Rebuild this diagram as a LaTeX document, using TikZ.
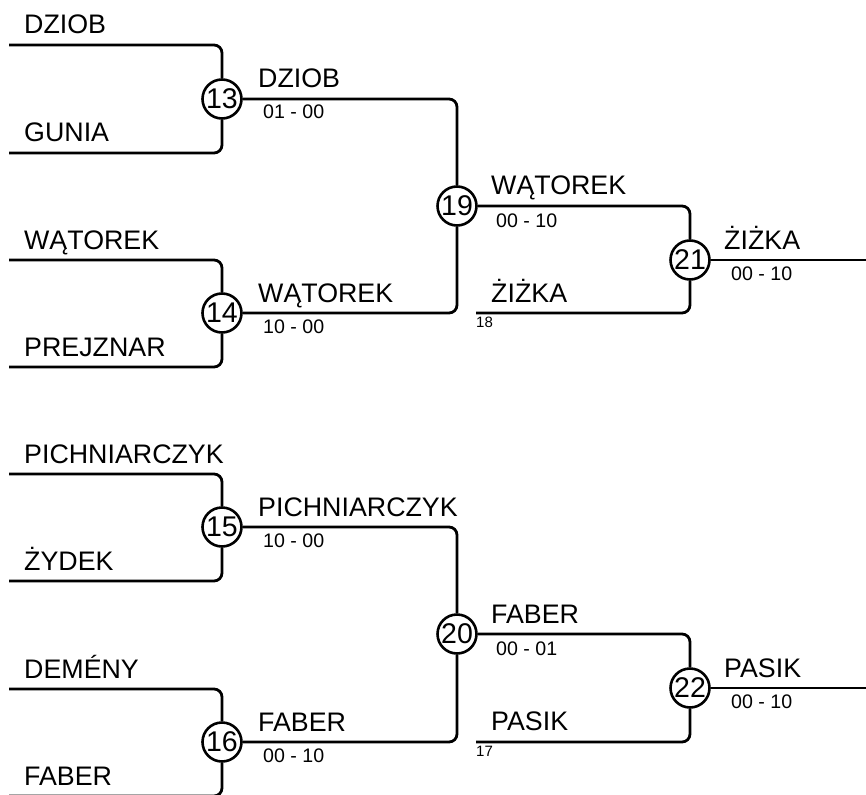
\documentclass[tikz,border=0pt]{standalone}
\usepackage{fontspec}
\setmainfont{Liberation Sans}
\begin{document}
\begin{tikzpicture}[x=1pt,y=-1pt,
  wire/.style={line width=2.8pt, rounded corners=8pt},
  mnode/.style={circle, draw, line width=2.6pt, minimum size=39pt, inner sep=0pt, fill=white, font=\fontsize{28.5}{30}\selectfont},
  pname/.style={anchor=base west, inner sep=0pt, font=\fontsize{26.8}{30}\selectfont},
  pscore/.style={anchor=base west, inner sep=0pt, font=\fontsize{19.6}{22}\selectfont},
  pseed/.style={anchor=base west, inner sep=0pt, font=\fontsize{15}{16}\selectfont}]
\useasboundingbox[fill=white] (0,0) rectangle (866,794);
\clip (0,0) rectangle (866,794);

% match nodes
\node[mnode] (m13) at (222,99) {13};
\node[mnode] (m14) at (222,313) {14};
\node[mnode] (m19) at (457,206) {19};
\node[mnode] (m21) at (690,260) {21};
\node[mnode] (m15) at (222,527) {15};
\node[mnode] (m16) at (222,742) {16};
\node[mnode] (m20) at (457,634) {20};
\node[mnode] (m22) at (690,688) {22};

% free ends
\coordinate (a13) at (9,45);
\coordinate (b13) at (9,153);
\coordinate (a14) at (9,260);
\coordinate (b14) at (9,367);
\coordinate (a15) at (9,474);
\coordinate (b15) at (9,581);
\coordinate (a16) at (9,689);
\coordinate (b16) at (9,796);
\coordinate (s18) at (476,313);
\coordinate (s17) at (476,742);
\coordinate (e21) at (866,260);
\coordinate (e22) at (866,688);

% connectors
\draw[wire] (a13) -| (m13);
\draw[wire] (b13) -| (m13);
\draw[wire] (a14) -| (m14);
\draw[wire] (b14) -| (m14);
\draw[wire] (m13) -| (m19);
\draw[wire] (m14) -| (m19);
\draw[wire] (m19) -| (m21);
\draw[wire] (s18) -| (m21);
\draw[wire] (m21) -- (e21);

\draw[wire] (a15) -| (m15);
\draw[wire] (b15) -| (m15);
\draw[wire] (a16) -| (m16);
\draw[wire] (b16) -| (m16);
\draw[wire] (m15) -| (m20);
\draw[wire] (m16) -| (m20);
\draw[wire] (m20) -| (m22);
\draw[wire] (s17) -| (m22);
\draw[wire] (m22) -- (e22);

% left names
\node[pname] (t1) at (24,34) {DZIOB};
\node[pname] (t2) at (24,142) {GUNIA};
\node[pname] (t3) at (24,249) {WĄTOREK};
\node[pname] (t4) at (24,356) {PREJZNAR};
\node[pname] (t5) at (24,463) {PICHNIARCZYK};
\node[pname] (t6) at (24,570) {ŻYDEK};
\node[pname] (t7) at (24,678) {DEMÉNY};
\node[pname] (t8) at (24,785) {FABER};

% winners and scores
\node[pname] (w13) at (258,88) {DZIOB};
\node[pscore] (r13) at (263,119) {01 - 00};
\node[pname] (w14) at (258,302) {WĄTOREK};
\node[pscore] (r14) at (263,333) {10 - 00};
\node[pname] (w19) at (491,195) {WĄTOREK};
\node[pscore] (r19) at (496,227) {00 - 10};
\node[pname] (l18) at (491,302) {ŻIŻKA};
\node[pseed] (n18) at (476,327) {18};
\node[pname] (w21) at (724,249) {ŻIŻKA};
\node[pscore] (r21) at (731,280) {00 - 10};

\node[pname] (w15) at (258,516) {PICHNIARCZYK};
\node[pscore] (r15) at (263,547) {10 - 00};
\node[pname] (w16) at (258,731) {FABER};
\node[pscore] (r16) at (263,762) {00 - 10};
\node[pname] (w20) at (491,623) {FABER};
\node[pscore] (r20) at (496,655) {00 - 01};
\node[pname] (l17) at (491,730) {PASIK};
\node[pseed] (n17) at (476,756) {17};
\node[pname] (w22) at (724,677) {PASIK};
\node[pscore] (r22) at (731,708) {00 - 10};
\end{tikzpicture}
\end{document}
